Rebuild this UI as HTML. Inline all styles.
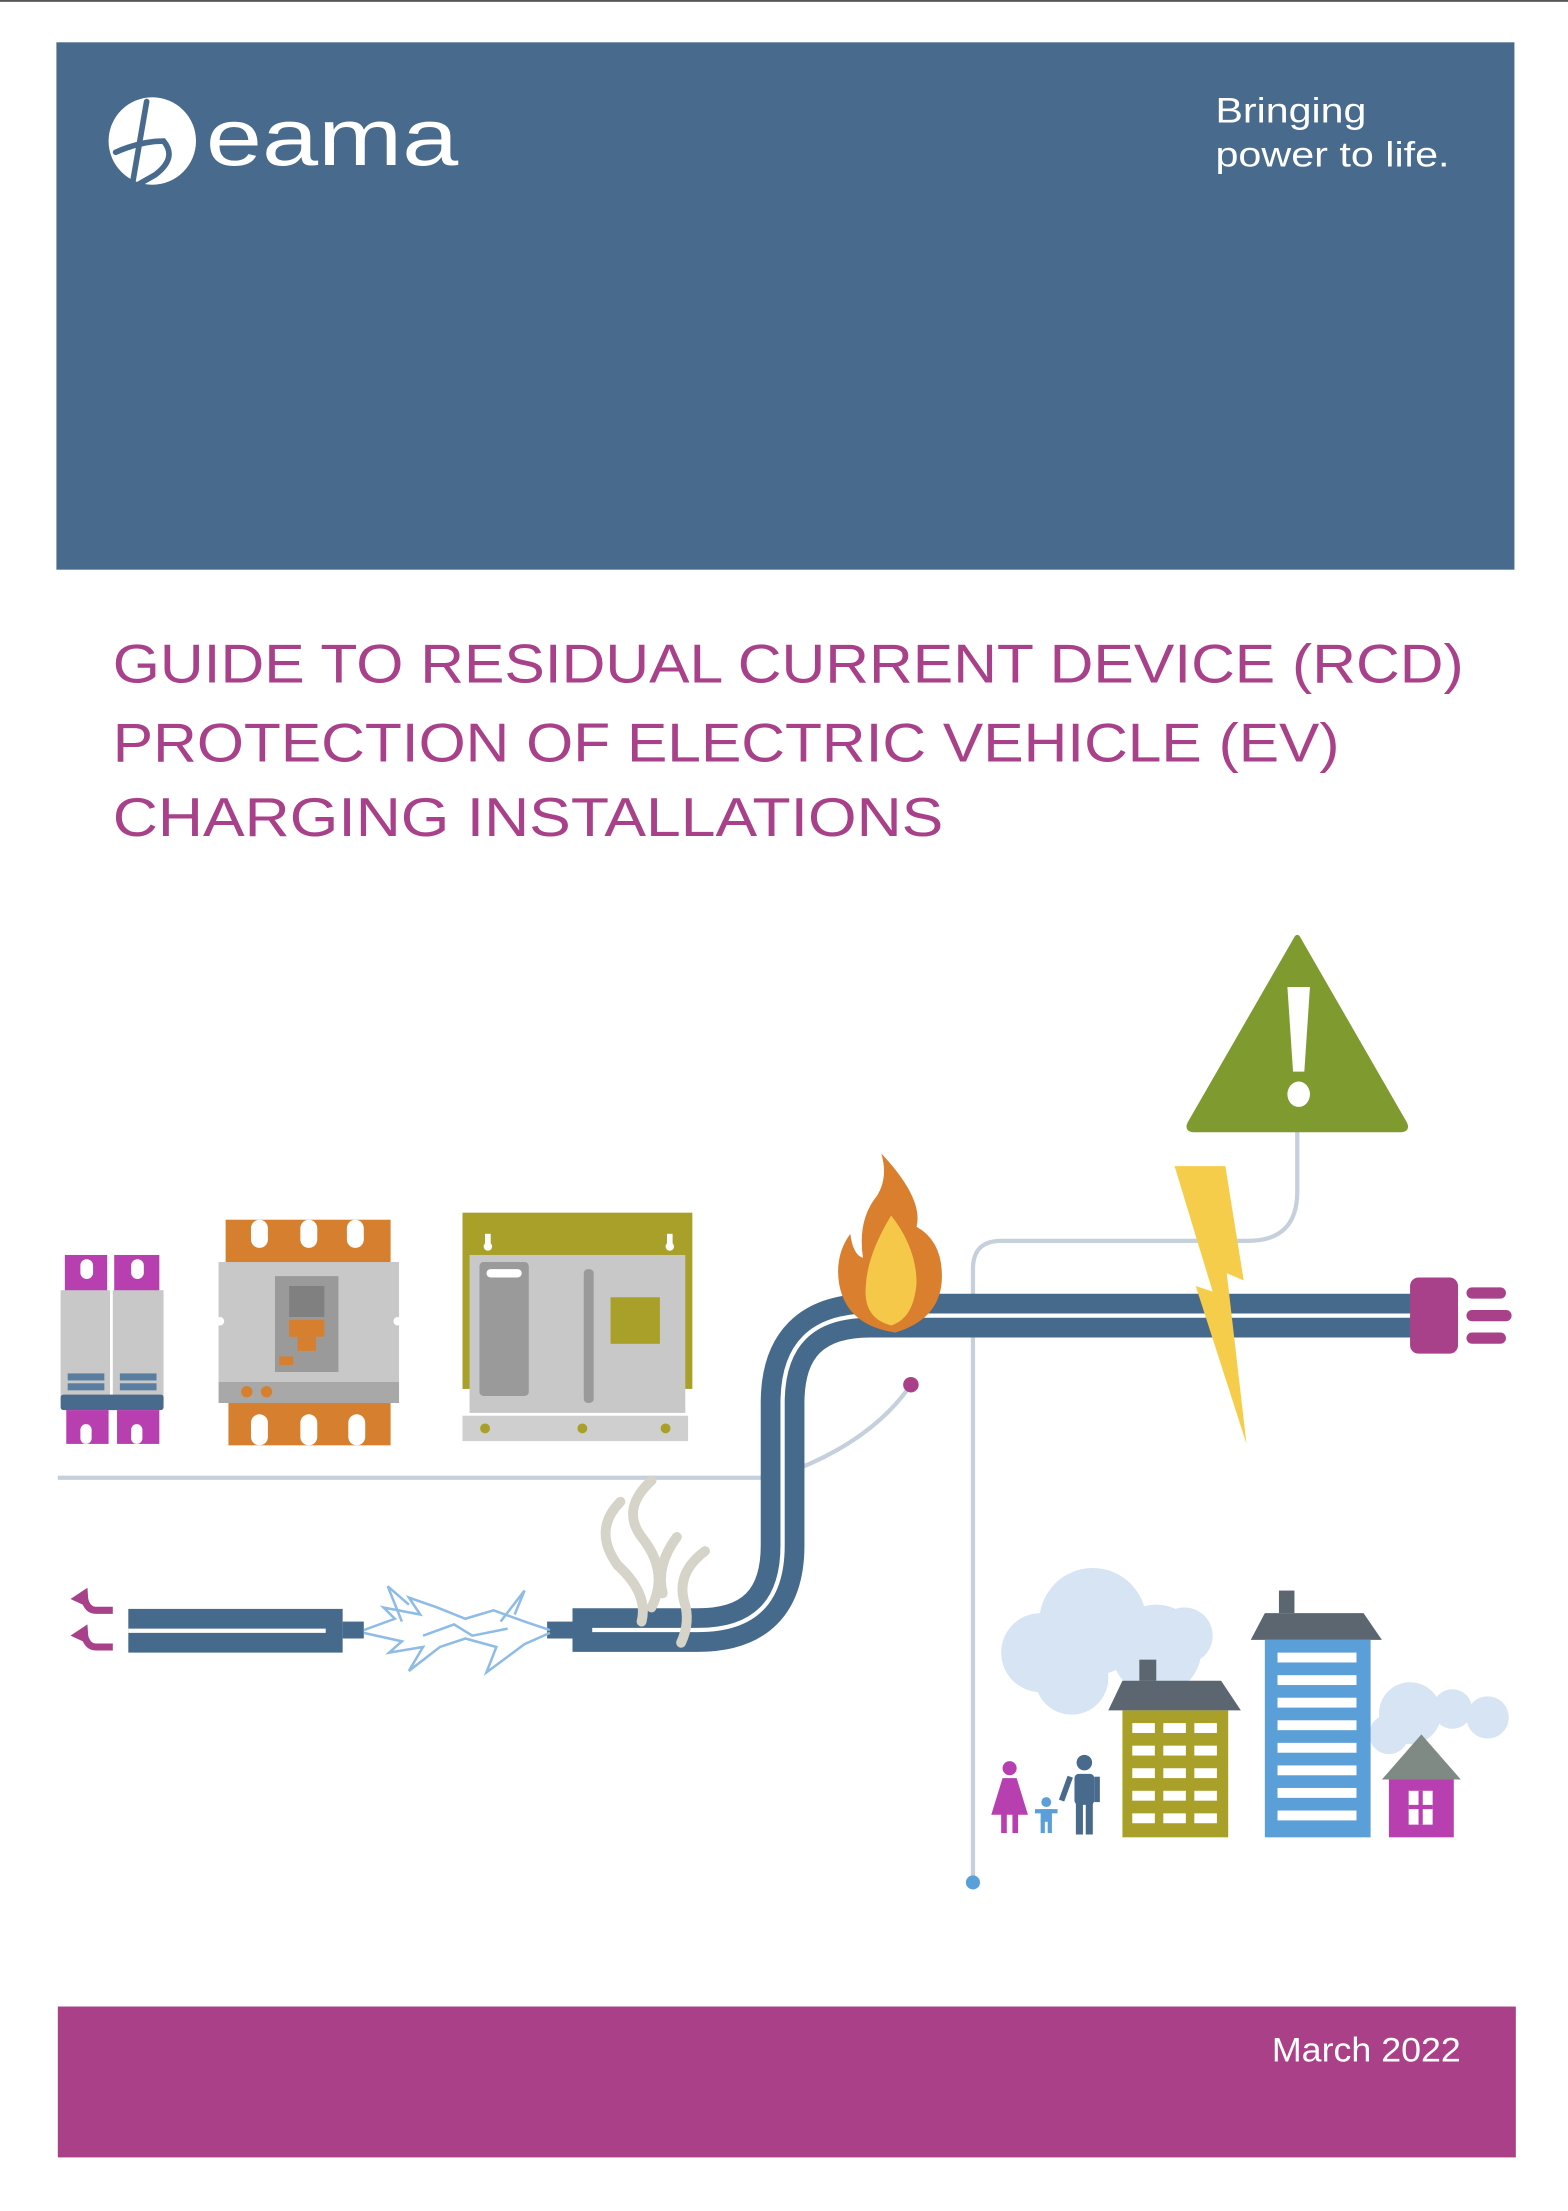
<!DOCTYPE html>
<html><head><meta charset="utf-8"><style>
html,body{margin:0;padding:0;background:#fff;}
svg{display:block;}
</style></head><body>
<svg width="1568" height="2211" viewBox="0 0 1112 1568" xmlns="http://www.w3.org/2000/svg" font-family="'Liberation Sans', sans-serif">
<rect x="0" y="0" width="1112" height="1568" fill="#fff"/>
<rect x="0" y="0" width="1112" height="1.3" fill="#555"/>
<rect x="40" y="30" width="1034" height="374" fill="#486a8c"/>
<circle cx="108" cy="100" r="31" fill="#fff"/>
<path d="M104 72 L94 130 M82 108 Q100 100 116 100 Q126 112 110 124 L96 132" stroke="#486a8c" stroke-width="4" fill="none" stroke-linecap="round"/>
<text x="146" y="117" font-size="57" fill="#fff" textLength="179" lengthAdjust="spacingAndGlyphs">eama</text>
<text x="862" y="87" font-size="25" fill="#fff" textLength="107" lengthAdjust="spacingAndGlyphs">Bringing</text>
<text x="862" y="118" font-size="25" fill="#fff" textLength="166" lengthAdjust="spacingAndGlyphs">power to life.</text>
<g fill="#a8418a" font-size="39">
<text x="80" y="484" textLength="958" lengthAdjust="spacingAndGlyphs">GUIDE TO RESIDUAL CURRENT DEVICE (RCD)</text>
<text x="80" y="540" textLength="870" lengthAdjust="spacingAndGlyphs">PROTECTION OF ELECTRIC VEHICLE (EV)</text>
<text x="80" y="593" textLength="589" lengthAdjust="spacingAndGlyphs">CHARGING INSTALLATIONS</text>
</g>
<g stroke="#c6d0dc" stroke-width="3" fill="none">
<path d="M41 1048 H545"/>
<path d="M565 1042 Q620 1020 646 982"/>
<path d="M690 1335 V900 Q690 880 710 880 H885 Q920 880 920 845 V800"/>
</g>
<circle cx="646" cy="982" r="5.5" fill="#a8418a"/>
<circle cx="690" cy="1335" r="5" fill="#5aa0d8"/>
<path d="M406 1156 H495 Q555 1156 555 1096 V995 Q555 933 617 933 H1002" stroke="#466a8c" stroke-width="31" fill="none"/>
<path d="M420 1156 H495 Q555 1156 555 1096 V995 Q555 933 617 933 H1002" stroke="#fff" stroke-width="3" fill="none"/>
<rect x="388" y="1150" width="18" height="12" fill="#466a8c"/>
<rect x="91" y="1141" width="152" height="31" fill="#466a8c"/>
<rect x="91" y="1155" width="140" height="3" fill="#fff"/>
<rect x="243" y="1150" width="15" height="12" fill="#466a8c"/>
<g stroke="#8ebce6" stroke-width="1.8" fill="none">
<polyline points="258,1156 280,1148 272,1140 298,1145 290,1133 310,1140 330,1148 350,1142 372,1150 390,1156"/>
<polyline points="258,1158 285,1164 276,1172 300,1168 290,1185 312,1168 330,1162 352,1168 345,1186 372,1166 390,1158"/>
<polyline points="285,1150 275,1125 290,1138"/>
<polyline points="355,1150 372,1128 365,1145"/>
<polyline points="300,1160 322,1152 335,1160 360,1155"/>
</g>
<g fill="none" stroke="#a8418a" stroke-width="5">
<path d="M80 1142 H68 Q62 1142 60 1134"/>
<path d="M80 1168 H68 Q62 1168 60 1160"/>
</g>
<polygon points="50,1134 62,1126 63,1140" fill="#a8418a"/>
<polygon points="50,1160 62,1152 63,1166" fill="#a8418a"/>
<rect x="1000" y="906" width="34" height="54" rx="6" fill="#a8418a"/>
<rect x="1040" y="913" width="28" height="8" rx="4" fill="#a8418a"/>
<rect x="1040" y="929" width="32" height="8" rx="4" fill="#a8418a"/>
<rect x="1040" y="945" width="28" height="8" rx="4" fill="#a8418a"/>
<path d="M920 665 L996 797 Q998 801 993 801 L847 801 Q842 801 844 797 Z" fill="#7f9a2e" stroke="#7f9a2e" stroke-width="4" stroke-linejoin="round"/>
<polygon points="913,700 929,700 925,760 917,760" fill="#fff"/>
<ellipse cx="921" cy="776" rx="8" ry="9" fill="#fff"/>
<polygon points="833,827 869,827 882,908 870,903 884,1024 848,912 860,916" fill="#f5cd4a"/>
<path d="M625 818 Q655 850 650 870 Q668 880 668 905 Q668 935 635 945 Q600 940 595 910 Q592 890 603 875 Q605 890 612 892 Q608 865 622 848 Q630 835 625 818 Z" fill="#d97f2d"/>
<path d="M632 862 Q650 885 650 910 Q648 935 632 940 Q612 935 614 912 Q615 890 632 862 Z" fill="#f5c84a"/>
<g fill="none" stroke="#d6d3c8" stroke-width="7" stroke-linecap="round">
<path d="M462 1050 Q440 1070 455 1090 Q475 1115 462 1140"/>
<path d="M440 1065 Q420 1085 438 1110 Q460 1130 455 1150"/>
<path d="M500 1100 Q480 1115 485 1135 Q490 1150 483 1165"/>
<path d="M480 1090 Q465 1110 470 1130"/>
</g>
<g>
<rect x="46" y="890" width="30" height="27" fill="#b83fb0"/>
<rect x="81" y="890" width="32" height="27" fill="#b83fb0"/>
<rect x="57" y="893" width="9" height="14" rx="4.5" fill="#fff"/>
<rect x="93" y="893" width="9" height="14" rx="4.5" fill="#fff"/>
<rect x="43" y="915" width="73" height="78" fill="#c8c8c8"/>
<rect x="78" y="915" width="2" height="78" fill="#fff"/>
<rect x="48" y="974" width="26" height="5" fill="#5a7ea0"/>
<rect x="48" y="981" width="26" height="5" fill="#5a7ea0"/>
<rect x="85" y="974" width="26" height="5" fill="#5a7ea0"/>
<rect x="85" y="981" width="26" height="5" fill="#5a7ea0"/>
<rect x="43" y="989" width="73" height="11" rx="2" fill="#486a8c"/>
<rect x="47" y="1000" width="30" height="24" fill="#b83fb0"/>
<rect x="83" y="1000" width="30" height="24" fill="#b83fb0"/>
<rect x="57" y="1010" width="8" height="14" rx="4" fill="#fff"/>
<rect x="93" y="1010" width="8" height="14" rx="4" fill="#fff"/>
</g>
<g>
<rect x="160" y="865" width="117" height="32" fill="#d67f2f"/>
<rect x="178" y="865" width="12" height="20" rx="6" fill="#fff"/>
<rect x="213" y="865" width="12" height="20" rx="6" fill="#fff"/>
<rect x="246" y="865" width="12" height="20" rx="6" fill="#fff"/>
<rect x="155" y="895" width="128" height="85" fill="#c8c8c8"/>
<circle cx="156" cy="937" r="3" fill="#fff"/>
<circle cx="282" cy="937" r="3" fill="#fff"/>
<rect x="195" y="905" width="45" height="68" fill="#9a9a9a"/>
<rect x="205" y="912" width="25" height="22" fill="#808080"/>
<rect x="205" y="936" width="25" height="12" fill="#d67f2f"/>
<rect x="211" y="948" width="13" height="10" fill="#d67f2f"/>
<rect x="198" y="962" width="10" height="6" fill="#d67f2f"/>
<rect x="155" y="980" width="128" height="15" fill="#a8a8a8"/>
<circle cx="175" cy="987" r="4" fill="#d67f2f"/>
<circle cx="189" cy="987" r="4" fill="#d67f2f"/>
<rect x="162" y="995" width="115" height="30" fill="#d67f2f"/>
<rect x="178" y="1003" width="12" height="22" rx="6" fill="#fff"/>
<rect x="213" y="1003" width="12" height="22" rx="6" fill="#fff"/>
<rect x="247" y="1003" width="12" height="22" rx="6" fill="#fff"/>
</g>
<g>
<rect x="328" y="860" width="163" height="125" fill="#a9a02a"/>
<rect x="344" y="875" width="4" height="10" fill="#fff"/><circle cx="346" cy="884" r="3" fill="#fff"/>
<rect x="473" y="875" width="4" height="10" fill="#fff"/><circle cx="475" cy="884" r="3" fill="#fff"/>
<rect x="333" y="890" width="153" height="112" fill="#c8c8c8"/>
<rect x="340" y="895" width="35" height="95" rx="3" fill="#9a9a9a"/>
<rect x="345" y="900" width="25" height="6" rx="3" fill="#fff"/>
<rect x="414" y="900" width="7" height="95" rx="3" fill="#9a9a9a"/>
<rect x="433" y="920" width="35" height="33" fill="#a9a02a"/>
<rect x="328" y="1004" width="160" height="18" fill="#cfcfcf"/>
<circle cx="344" cy="1013" r="3.5" fill="#a9a02a"/>
<circle cx="413" cy="1013" r="3.5" fill="#a9a02a"/>
<circle cx="472" cy="1013" r="3.5" fill="#a9a02a"/>
</g>
<g fill="#d6e4f3">
<circle cx="775" cy="1150" r="38"/>
<circle cx="738" cy="1172" r="28"/>
<circle cx="820" cy="1170" r="32"/>
<circle cx="840" cy="1160" r="20"/>
<circle cx="760" cy="1190" r="26"/>
<circle cx="1000" cy="1215" r="22"/>
<circle cx="1030" cy="1212" r="14"/>
<circle cx="1055" cy="1218" r="15"/>
<circle cx="985" cy="1230" r="14"/>
</g>
<rect x="808" y="1177" width="12" height="15" fill="#5b6670"/>
<polygon points="796,1192 866,1192 880,1213 786,1213" fill="#5b6670"/>
<rect x="796" y="1213" width="75" height="90" fill="#a9a02a"/>
<g fill="#fff">
<rect x="803" y="1222" width="16" height="7"/><rect x="825" y="1222" width="16" height="7"/><rect x="847" y="1222" width="16" height="7"/>
<rect x="803" y="1238" width="16" height="7"/><rect x="825" y="1238" width="16" height="7"/><rect x="847" y="1238" width="16" height="7"/>
<rect x="803" y="1254" width="16" height="7"/><rect x="825" y="1254" width="16" height="7"/><rect x="847" y="1254" width="16" height="7"/>
<rect x="803" y="1270" width="16" height="7"/><rect x="825" y="1270" width="16" height="7"/><rect x="847" y="1270" width="16" height="7"/>
<rect x="803" y="1286" width="16" height="7"/><rect x="825" y="1286" width="16" height="7"/><rect x="847" y="1286" width="16" height="7"/>
</g>
<rect x="907" y="1128" width="11" height="16" fill="#5b6670"/>
<polygon points="897,1144 967,1144 980,1163 887,1163" fill="#5b6670"/>
<rect x="897" y="1163" width="75" height="140" fill="#5b9fd8"/>
<g fill="#fff">
<rect x="906" y="1172" width="56" height="7"/><rect x="906" y="1188" width="56" height="7"/>
<rect x="906" y="1204" width="56" height="7"/><rect x="906" y="1220" width="56" height="7"/>
<rect x="906" y="1236" width="56" height="7"/><rect x="906" y="1252" width="56" height="7"/>
<rect x="906" y="1268" width="56" height="7"/><rect x="906" y="1284" width="56" height="7"/>
</g>
<polygon points="1008,1230 1036,1262 980,1262" fill="#808a84"/>
<rect x="985" y="1262" width="46" height="41" fill="#b83fb0"/>
<rect x="999" y="1270" width="17" height="24" fill="#fff"/>
<rect x="1006" y="1270" width="3" height="24" fill="#b83fb0"/>
<rect x="999" y="1280" width="17" height="3" fill="#b83fb0"/>
<g fill="#b83fb0">
<circle cx="716" cy="1254" r="5"/>
<polygon points="711,1261 721,1261 729,1287 703,1287"/>
<rect x="710" y="1286" width="4" height="14"/><rect x="718" y="1286" width="4" height="14"/>
</g>
<g fill="#5b9fd8">
<circle cx="742" cy="1278" r="3.5"/>
<rect x="738" y="1283" width="8" height="9"/>
<rect x="734" y="1283" width="16" height="3"/>
<rect x="738" y="1291" width="3" height="9"/><rect x="743" y="1291" width="3" height="9"/>
</g>
<g fill="#486a8c">
<circle cx="769" cy="1250" r="5.5"/>
<rect x="762" y="1258" width="14" height="22" rx="3"/>
<rect x="757" y="1260" width="4" height="18" transform="rotate(20 759 1260)"/>
<rect x="776" y="1260" width="4" height="18"/>
<rect x="763" y="1278" width="5" height="23"/><rect x="770" y="1278" width="5" height="23"/>
</g>
<rect x="41" y="1423" width="1034" height="107" fill="#a94088"/>
<text x="1036" y="1462" font-size="24" fill="#fff" text-anchor="end" textLength="134" lengthAdjust="spacingAndGlyphs">March 2022</text>
</svg>
</body></html>
